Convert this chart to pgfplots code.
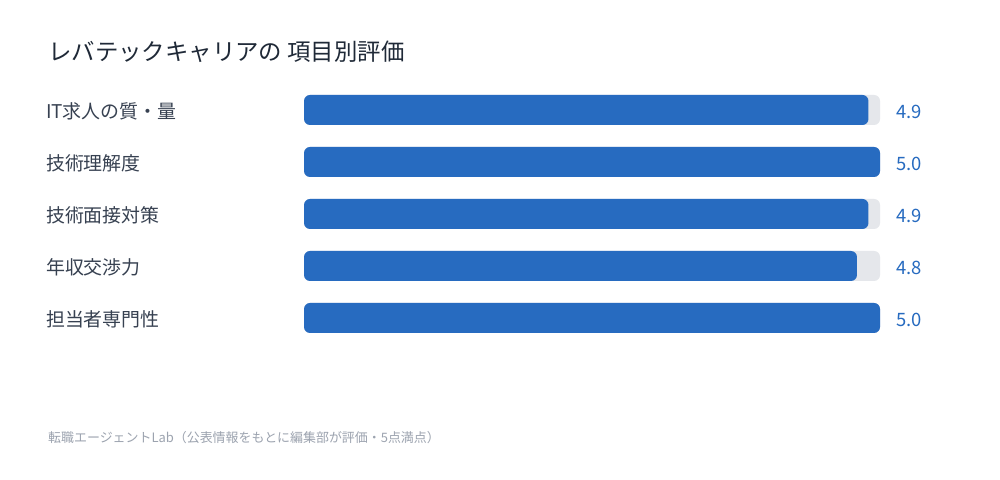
\documentclass[border=0pt]{standalone}
\usepackage{fontspec}
\setmainfont{Noto Sans CJK JP}
\usepackage{pgfplots}
\pgfplotsset{compat=1.18}

\definecolor{barblue}{HTML}{276BC0}
\definecolor{trackgray}{HTML}{E5E7EB}
\definecolor{labelgray}{HTML}{374151}
\definecolor{titlecol}{HTML}{1F2937}
\definecolor{notegray}{HTML}{9CA3AF}

\begin{document}
\begin{tikzpicture}[x=1bp,y=1bp]
\fill[white] (0,0) rectangle (1000,480);
% title and source note
\node[anchor=base west, inner sep=0pt, text=titlecol,
      font=\fontsize{23.5}{28}\selectfont] at (48,419) {レバテックキャリアの 項目別評価};
\node[anchor=base west, inner sep=0pt, text=notegray,
      font=\fontsize{13}{16}\selectfont] at (48,37)
      {転職エージェントLab（公表情報をもとに編集部が評価・5点満点）};

\begin{axis}[
    at={(304bp,136bp)}, anchor=south west,
    scale only axis,
    width=576bp, height=260bp,
    xmin=0, xmax=5,
    ymin=-0.5, ymax=4.5,
    y dir=reverse,
    axis lines=left,
    axis line style={draw=none},
    tick style={draw=none},
    xtick=\empty,
    ytick={0,1,2,3,4},
    yticklabels={IT求人の質・量, 技術理解度, 技術面接対策, 年収交渉力, 担当者専門性},
    yticklabel style={anchor=west, inner sep=0pt, xshift=-256bp, yshift=-1.5bp,
                      text=labelgray, font=\fontsize{19}{22}\selectfont},
    clip=false,
]
% background track
\addplot[xbar, bar width=30bp, bar shift=0pt, fill=trackgray, draw=none,
         rounded corners=6bp] coordinates {
    (5,0) (5,1) (5,2) (5,3) (5,4)
};
% score bars
\addplot[xbar, bar width=30bp, bar shift=0pt, fill=barblue, draw=none,
         rounded corners=6bp] coordinates {
    (4.9,0) (5.0,1) (4.9,2) (4.8,3) (5.0,4)
};
% value labels
\addplot[only marks, mark=none, nodes near coords,
         point meta=explicit symbolic,
         nodes near coords style={anchor=west, inner sep=0pt, xshift=16bp, yshift=-1.5bp,
                                  text=barblue, font=\fontsize{18.5}{22}\selectfont}]
    coordinates {
    (5,0) [4.9] (5,1) [5.0] (5,2) [4.9] (5,3) [4.8] (5,4) [5.0]
};
\end{axis}
\end{tikzpicture}
\end{document}
